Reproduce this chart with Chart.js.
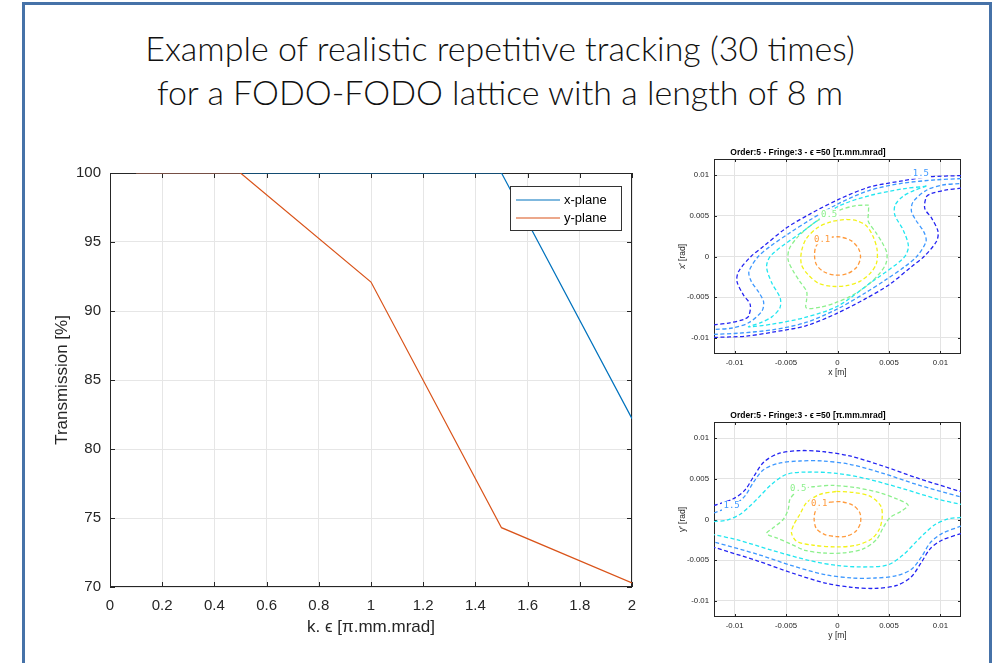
<!DOCTYPE html>
<html>
<head>
<meta charset="utf-8">
<script src="https://cdn.jsdelivr.net/npm/chart.js@4.4.0/dist/chart.umd.min.js"></script>
<style>
  html, body { margin: 0; padding: 0; background: #fff; }
  body { width: 1000px; height: 663px; position: relative; overflow: hidden; }
  #frame { position: absolute; left: 22px; top: 2px; width: 964px; height: 720px; border: 3px solid #4672a8; }
  #title { position: absolute; left: 0; top: 26px; width: 1000px; text-align: center;
           font-family: Lato, "Open Sans", sans-serif; font-weight: 300; font-size: 34px;
           line-height: 44px; color: #111; }
  canvas { position: absolute; }
</style>
</head>
<body>
<div id="frame"></div>
<div id="title">Example of realistic repetitive tracking (30 times)<br>for a FODO-FODO lattice with a length of 8 m</div>
<canvas id="trans" width="630" height="500" style="left:20px;top:150px"></canvas>
<canvas id="phaseX" width="320" height="245" style="left:655px;top:140px"></canvas>
<canvas id="phaseY" width="320" height="245" style="left:655px;top:403px"></canvas>
<script>
// ---------- transmission vs. emittance factor ----------
const kEps = [0.1, 0.5, 1.0, 1.5, 2.0];
const transX = [100, 100, 100, 100, 82.2];
const transY = [100, 100, 92.1, 74.3, 70.3];
const kTicks = [0, 0.2, 0.4, 0.6, 0.8, 1, 1.2, 1.4, 1.6, 1.8, 2];
const transTicks = [70, 75, 80, 85, 90, 95, 100];

// ---------- phase-space contours (metres / radians) ----------
const phaseTicks = [-0.01, -0.005, 0, 0.005, 0.01];
const contourLevels = ['0.1', '0.3', '0.5', '1.0', '1.5', '2.0'];
const levelColors = ['#ff9a3c', '#f2f21a', '#8cf08c', '#22e6f0', '#3d98ff', '#2424f2'];

// horizontal plane (x, x')
const hx01 = [[-0.00074,0.00237],[0.00023,0.00241],[0.00136,0.00192],[0.00207,0.00090],[0.00223,-0.00020],[0.00184,-0.00135],[0.00094,-0.00212],[-0.00023,-0.00229],[-0.00133,-0.00188],[-0.00204,-0.00102],[-0.00223,0.00008],[-0.00210,0.00122],[-0.00155,0.00196],[-0.00074,0.00237]];
const hx03 = [[0.00087,0.00457],[0.00184,0.00441],[0.00282,0.00376],[0.00346,0.00245],[0.00385,0.00082],[0.00379,-0.00082],[0.00320,-0.00204],[0.00217,-0.00306],[0.00087,-0.00359],[-0.00058,-0.00367],[-0.00188,-0.00327],[-0.00285,-0.00224],[-0.00350,-0.00102],[-0.00350,0.00061],[-0.00301,0.00224],[-0.00188,0.00359],[-0.00058,0.00429],[0.00087,0.00457]];
const hx05 = [[0.00304,0.00633],[0.00168,0.00624],[0.00023,0.00571],[-0.00139,0.00482],[-0.00285,0.00359],[-0.00398,0.00224],[-0.00470,0.00090],[-0.00480,-0.00040],[-0.00435,-0.00170],[-0.00370,-0.00300],[-0.00300,-0.00430],[-0.00300,-0.00530],[-0.00304,-0.00633],[-0.00168,-0.00624],[-0.00023,-0.00571],[0.00139,-0.00482],[0.00285,-0.00359],[0.00398,-0.00224],[0.00470,-0.00090],[0.00480,0.00040],[0.00435,0.00170],[0.00370,0.00300],[0.00300,0.00430],[0.00300,0.00530],[0.00304,0.00633]];
const hx10 = [[0.00864,0.00865],[0.00638,0.00833],[0.00314,0.00750],[0.00000,0.00612],[-0.00317,0.00327],[-0.00641,0.00020],[-0.00689,-0.00122],[-0.00638,-0.00327],[-0.00557,-0.00510],[-0.00560,-0.00633],[-0.00638,-0.00743],[-0.00751,-0.00816],[-0.00864,-0.00865],[-0.00638,-0.00833],[-0.00314,-0.00750],[0.00000,-0.00612],[0.00317,-0.00327],[0.00641,-0.00020],[0.00689,0.00122],[0.00638,0.00327],[0.00557,0.00510],[0.00560,0.00633],[0.00638,0.00743],[0.00751,0.00816],[0.00864,0.00865]];
const hx15a = [[0.01200,0.00959],[0.00955,0.00943],[0.00631,0.00902],[0.00307,0.00812],[0.00000,0.00645],[-0.00269,0.00449],[-0.00469,0.00286],[-0.00657,0.00122],[-0.00770,0.00000],[-0.00860,-0.00184],[-0.00840,-0.00300],[-0.00760,-0.00450],[-0.00718,-0.00560],[-0.00735,-0.00673],[-0.00864,-0.00816],[-0.01020,-0.00880],[-0.01200,-0.00898]];
const hx15b = [[-0.01200,-0.00959],[-0.00955,-0.00943],[-0.00631,-0.00902],[-0.00307,-0.00812],[0.00000,-0.00645],[0.00269,-0.00449],[0.00469,-0.00286],[0.00657,-0.00122],[0.00770,0.00000],[0.00860,0.00184],[0.00840,0.00300],[0.00760,0.00450],[0.00718,0.00560],[0.00735,0.00673],[0.00864,0.00816],[0.01020,0.00880],[0.01200,0.00898]];
const hx20a = [[0.01200,0.00996],[0.00890,0.00980],[0.00631,0.00931],[0.00307,0.00853],[0.00016,0.00706],[-0.00269,0.00522],[-0.00502,0.00347],[-0.00722,0.00122],[-0.00841,0.00000],[-0.00961,-0.00184],[-0.00977,-0.00306],[-0.00916,-0.00469],[-0.00848,-0.00592],[-0.00864,-0.00735],[-0.00913,-0.00776],[-0.01045,-0.00816],[-0.01200,-0.00841]];
const hx20b = [[-0.01200,-0.00996],[-0.00890,-0.00980],[-0.00631,-0.00931],[-0.00307,-0.00853],[-0.00016,-0.00706],[0.00269,-0.00522],[0.00502,-0.00347],[0.00722,-0.00122],[0.00841,0.00000],[0.00961,0.00184],[0.00977,0.00306],[0.00916,0.00469],[0.00848,0.00592],[0.00864,0.00735],[0.00913,0.00776],[0.01045,0.00816],[0.01200,0.00841]];

// vertical plane (y, y')
const vy01 = [[-0.00074,0.00214],[0.00039,0.00218],[0.00152,0.00173],[0.00217,0.00082],[0.00223,-0.00041],[0.00178,-0.00144],[0.00087,-0.00206],[-0.00010,-0.00210],[-0.00123,-0.00185],[-0.00204,-0.00115],[-0.00227,0.00000],[-0.00214,0.00103],[-0.00155,0.00185],[-0.00074,0.00214]];
const vy03 = [[-0.00010,0.00346],[0.00152,0.00333],[0.00314,0.00288],[0.00421,0.00165],[0.00434,0.00021],[0.00405,-0.00123],[0.00330,-0.00239],[0.00184,-0.00317],[-0.00010,-0.00337],[-0.00236,-0.00317],[-0.00398,-0.00267],[-0.00447,-0.00165],[-0.00424,-0.00062],[-0.00366,0.00062],[-0.00301,0.00206],[-0.00172,0.00309],[-0.00010,0.00346]];
const vy05 = [[-0.00382,0.00379],[-0.00236,0.00403],[-0.00042,0.00420],[0.00184,0.00391],[0.00411,0.00329],[0.00589,0.00247],[0.00686,0.00177],[0.00621,0.00103],[0.00508,0.00021],[0.00443,-0.00103],[0.00379,-0.00247],[0.00249,-0.00362],[0.00055,-0.00412],[-0.00139,-0.00412],[-0.00317,-0.00379],[-0.00463,-0.00296],[-0.00592,-0.00226],[-0.00689,-0.00173],[-0.00625,-0.00103],[-0.00528,0.00000],[-0.00479,0.00123],[-0.00463,0.00247],[-0.00398,0.00350],[-0.00382,0.00379]];
const vy10a = [[-0.01200,-0.00025],[-0.01078,-0.00008],[-0.00948,0.00062],[-0.00851,0.00165],[-0.00754,0.00288],[-0.00641,0.00432],[-0.00495,0.00556],[-0.00301,0.00584],[-0.00010,0.00568],[0.00282,0.00502],[0.00638,0.00379],[0.00961,0.00255],[0.01200,0.00185]];
const vy10b = [[0.01200,0.00025],[0.01078,0.00008],[0.00948,-0.00062],[0.00851,-0.00165],[0.00754,-0.00288],[0.00641,-0.00432],[0.00495,-0.00556],[0.00301,-0.00584],[0.00010,-0.00568],[-0.00282,-0.00502],[-0.00638,-0.00379],[-0.00961,-0.00255],[-0.01200,-0.00185]];
const vy15a = [[-0.01200,0.00082],[-0.01013,0.00173],[-0.00900,0.00288],[-0.00819,0.00453],[-0.00722,0.00609],[-0.00576,0.00691],[-0.00366,0.00720],[-0.00139,0.00720],[0.00120,0.00679],[0.00443,0.00568],[0.00767,0.00432],[0.01200,0.00276]];
const vy15b = [[0.01200,-0.00082],[0.01013,-0.00173],[0.00900,-0.00288],[0.00819,-0.00453],[0.00722,-0.00609],[0.00576,-0.00691],[0.00366,-0.00720],[0.00139,-0.00720],[-0.00120,-0.00679],[-0.00443,-0.00568],[-0.00767,-0.00432],[-0.01200,-0.00276]];
const vy20a = [[-0.01200,0.00173],[-0.01013,0.00255],[-0.00900,0.00362],[-0.00812,0.00535],[-0.00715,0.00708],[-0.00576,0.00811],[-0.00366,0.00848],[-0.00139,0.00835],[0.00120,0.00782],[0.00443,0.00658],[0.00767,0.00514],[0.01200,0.00342]];
const vy20b = [[0.01200,-0.00173],[0.01013,-0.00255],[0.00900,-0.00362],[0.00812,-0.00535],[0.00715,-0.00708],[0.00576,-0.00811],[0.00366,-0.00848],[0.00139,-0.00835],[-0.00120,-0.00782],[-0.00443,-0.00658],[-0.00767,-0.00514],[-0.01200,-0.00342]];

// level of each curve (index into contourLevels)
const hxCurves = [[hx20a, 5], [hx20b, 5], [hx15a, 4], [hx15b, 4], [hx10, 3], [hx05, 2], [hx03, 1], [hx01, 0]];
const vyCurves = [[vy20a, 5], [vy20b, 5], [vy15a, 4], [vy15b, 4], [vy10a, 3], [vy10b, 3], [vy05, 2], [vy03, 1], [vy01, 0]];

// inline contour labels: [x, y, level index]
const hxLabels = [[-0.00149, 0.00210, 0], [-0.00081, 0.00520, 2], [0.00810, 0.01020, 4]];
const vyLabels = [[-0.00178, 0.00193, 0], [-0.00382, 0.00383, 2], [-0.01029, 0.00165, 4]];

const FONT = '"Liberation Sans", Arial, Helvetica, sans-serif';
const INK = '#262626';

// MATLAB-style box around the axes with inward tick marks
const axesBox = {
  id: 'axesBox',
  beforeDatasetsDraw(chart, args, opts) {
    const { ctx, chartArea: a, scales } = chart;
    const xs = scales.x, ys = scales.y;
    ctx.save();
    ctx.strokeStyle = opts.color;
    ctx.lineWidth = opts.width;
    ctx.strokeRect(a.left + 0.5, a.top + 0.5, a.right - a.left - 1, a.bottom - a.top - 1);
    ctx.beginPath();
    xs.ticks.forEach(t => {
      const px = Math.round(xs.getPixelForValue(t.value)) + 0.5;
      ctx.moveTo(px, a.bottom); ctx.lineTo(px, a.bottom - opts.len);
      ctx.moveTo(px, a.top); ctx.lineTo(px, a.top + opts.len);
    });
    ys.ticks.forEach(t => {
      const py = Math.round(ys.getPixelForValue(t.value)) + 0.5;
      ctx.moveTo(a.left, py); ctx.lineTo(a.left + opts.len, py);
      ctx.moveTo(a.right, py); ctx.lineTo(a.right - opts.len, py);
    });
    ctx.stroke();
    ctx.restore();
  }
};

// boxed legend in the upper right corner of the plot area
const boxLegend = {
  id: 'boxLegend',
  afterDatasetsDraw(chart, args, opts) {
    if (!opts.show) return;
    const { ctx, chartArea: a } = chart;
    const w = 111, h = 44;
    const left = a.right - 11 - w, top = a.top + 13;
    ctx.save();
    ctx.fillStyle = '#fff';
    ctx.fillRect(left, top, w, h);
    ctx.strokeStyle = '#333';
    ctx.lineWidth = 1;
    ctx.strokeRect(left + 0.5, top + 0.5, w, h);
    ctx.font = '13px ' + FONT;
    ctx.textBaseline = 'middle';
    chart.data.datasets.forEach((ds, i) => {
      const y = top + 14 + i * 18;
      ctx.strokeStyle = ds.borderColor;
      ctx.lineWidth = 1.2;
      ctx.beginPath(); ctx.moveTo(left + 6, y); ctx.lineTo(left + 50, y); ctx.stroke();
      ctx.fillStyle = '#000';
      ctx.fillText(ds.label, left + 54, y);
    });
    ctx.restore();
  }
};

// contour level labels sitting in a gap of their line
const levelText = {
  id: 'levelText',
  afterDatasetsDraw(chart, args, opts) {
    const { ctx, scales } = chart;
    ctx.save();
    ctx.font = '9px "DejaVu Sans Mono", monospace';
    ctx.textAlign = 'center';
    ctx.textBaseline = 'middle';
    (opts.items || []).forEach(([x, y, lv]) => {
      const px = scales.x.getPixelForValue(x), py = scales.y.getPixelForValue(y);
      const txt = contourLevels[lv];
      const w = ctx.measureText(txt).width + 3;
      ctx.fillStyle = '#fff';
      ctx.fillRect(px - w / 2, py - 5, w, 10);
      ctx.fillStyle = levelColors[lv];
      ctx.fillText(txt, px, py);
    });
    ctx.restore();
  }
};

const fmt = v => String(+(+v).toFixed(4));

new Chart(document.getElementById('trans'), {
  type: 'line',
  data: {
    datasets: [
      { label: 'x-plane', data: kEps.map((k, i) => ({ x: k, y: transX[i] })),
        borderColor: '#0072BD', borderWidth: 1.2, pointRadius: 0, tension: 0, order: 2 },
      { label: 'y-plane', data: kEps.map((k, i) => ({ x: k, y: transY[i] })),
        borderColor: '#D95319', borderWidth: 1.2, pointRadius: 0, tension: 0, order: 1 }
    ]
  },
  options: {
    responsive: false, animation: false, devicePixelRatio: 1,
    layout: { padding: { left: 0, right: 18, top: 23, bottom: 0 } },
    plugins: { legend: { display: false }, tooltip: { enabled: false },
               axesBox: { color: INK, width: 1, len: 5 }, boxLegend: { show: true } },
    scales: {
      x: { type: 'linear', min: 0, max: 2,
           afterBuildTicks: s => { s.ticks = kTicks.map(v => ({ value: v })); },
           afterFit: s => { s.height = 63; },
           grid: { color: '#e6e6e6', drawTicks: false }, border: { display: false },
           ticks: { font: { family: FONT, size: 15 }, color: INK, padding: 10, maxRotation: 0, callback: fmt },
           title: { display: true, text: 'k. ϵ [π.mm.mrad]', font: { family: FONT, size: 17 }, color: INK,
                    padding: { top: 0, bottom: 12 } } },
      y: { type: 'linear', min: 70, max: 100,
           afterBuildTicks: s => { s.ticks = transTicks.map(v => ({ value: v })); },
           afterFit: s => { s.width = 90; },
           grid: { color: '#e6e6e6', drawTicks: false }, border: { display: false },
           ticks: { font: { family: FONT, size: 15 }, color: INK, padding: 9, callback: fmt },
           title: { display: true, text: 'Transmission [%]', font: { family: FONT, size: 17 }, color: INK,
                    padding: { top: 32, bottom: 0 } } }
    }
  },
  plugins: [axesBox, boxLegend]
});

function phaseChart(id, curves, labels, xTitle, yTitle) {
  const datasets = curves.map(([pts, lv]) => ({
    label: contourLevels[lv],
    data: pts.map(p => ({ x: p[0], y: p[1] })),
    borderColor: levelColors[lv], borderWidth: 1.3, borderDash: [4, 2.5],
    pointRadius: 0, tension: 0.3, fill: false
  }));
  const axis = (title, padTop, padBottom, isX) => ({
    type: 'linear', min: -0.012, max: 0.012,
    afterBuildTicks: s => { s.ticks = phaseTicks.map(v => ({ value: v })); },
    afterFit: s => { if (isX) s.height = 31; else s.width = 59; },
    grid: { color: '#e3e3e3', drawTicks: false }, border: { display: false },
    ticks: { font: { family: FONT, size: 7.8 }, color: INK, padding: isX ? 4 : 5, maxRotation: 0, callback: fmt },
    title: { display: true, text: title, font: { family: FONT, size: 8.5 }, color: INK,
             padding: { top: padTop, bottom: padBottom } }
  });
  new Chart(document.getElementById(id), {
    type: 'line',
    data: { datasets },
    options: {
      responsive: false, animation: false, devicePixelRatio: 1,
      layout: { padding: { left: 0, right: 14, top: 0, bottom: 0 } },
      plugins: {
        legend: { display: false }, tooltip: { enabled: false },
        title: { display: true, text: 'Order:5 - Fringe:3 - ϵ =50 [π.mm.mrad]',
                 font: { family: FONT, size: 8.5, weight: 'bold' }, color: '#000',
                 padding: { top: 8, bottom: 0.8 } },
        axesBox: { color: INK, width: 1, len: 3 },
        levelText: { items: labels }
      },
      scales: { x: axis(xTitle, 0, 7, true), y: axis(yTitle, 23, 0, false) }
    },
    plugins: [axesBox, levelText]
  });
}

phaseChart('phaseX', hxCurves, hxLabels, 'x [m]', 'x′ [rad]');
phaseChart('phaseY', vyCurves, vyLabels, 'y [m]', 'y′ [rad]');
</script>
</body>
</html>
